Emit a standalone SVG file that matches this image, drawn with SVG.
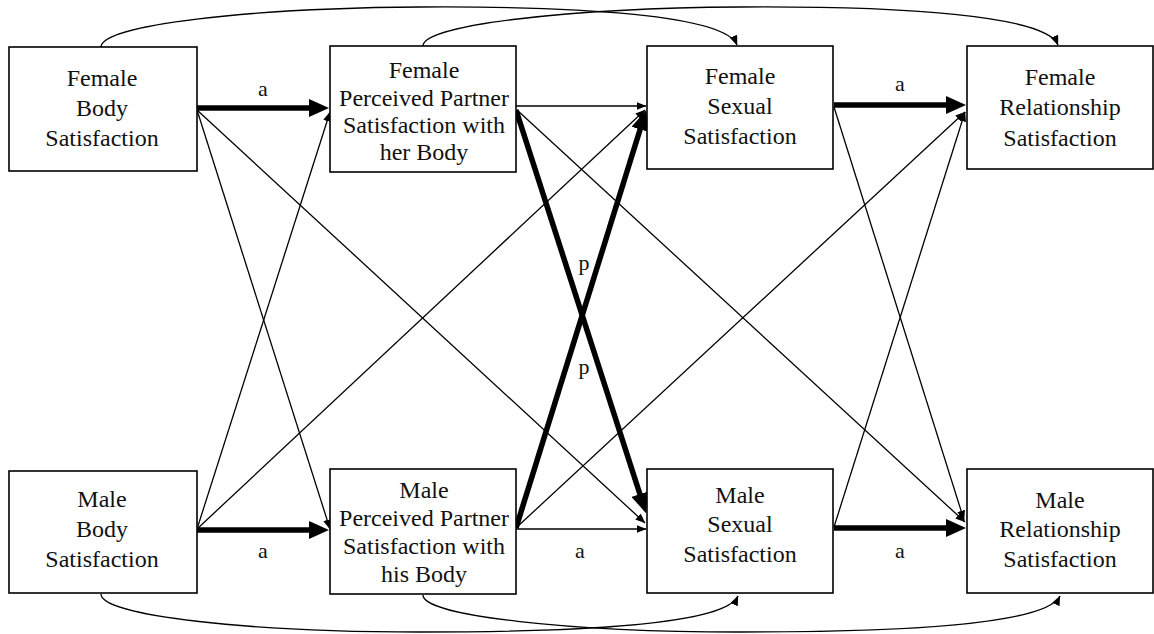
<svg xmlns="http://www.w3.org/2000/svg" width="1154" height="634" viewBox="0 0 1154 634">
<defs>
<style>
.nodebox{fill:#fff;stroke:#000;stroke-width:1.6}
.t{font-family:'Liberation Serif','Times New Roman',serif;font-size:24px;fill:#111;text-anchor:middle}
.lbl{font-family:'Liberation Serif','Times New Roman',serif;font-size:22px;fill:#111;text-anchor:middle}
.cthin{fill:none;stroke:#000;stroke-width:1.3;marker-end:url(#ahThin)}
.cthick{fill:none;stroke:#000;stroke-width:5.5;marker-end:url(#ahThick)}
</style>
<marker id="ahThin" markerWidth="10" markerHeight="8" refX="9.5" refY="4" orient="auto" markerUnits="userSpaceOnUse"><path d="M0,0 L10,4 L0,8 z" fill="#000"/></marker>
<marker id="ahThick" markerWidth="20" markerHeight="18" refX="2" refY="9" orient="auto" markerUnits="userSpaceOnUse"><path d="M0,0 L20,9 L0,18 z" fill="#000"/></marker>
</defs>
<rect width="1154" height="634" fill="#fff"/>
<g id="connectors">
<path class="cthin" d="M101,47 C101,25 250,8 420,7 C580,6 725,15 737,45"/>
<path class="cthin" d="M423,46 C423,25 570,8 740,7 C900,6 1046,15 1058,45"/>
<path class="cthin" d="M101,594 C101,616 250,632 420,632 C580,632 725,625 738,596"/>
<path class="cthin" d="M423,595 C423,616 570,632 740,632 C900,632 1046,625 1060,596"/>
<line class="cthin" x1="197" y1="110" x2="330" y2="529"/>
<line class="cthin" x1="197" y1="110" x2="645" y2="523"/>
<line class="cthin" x1="197" y1="529" x2="330" y2="112"/>
<line class="cthin" x1="197" y1="529" x2="645" y2="110"/>
<line class="cthin" x1="516" y1="106" x2="646" y2="106"/>
<line class="cthin" x1="517" y1="110" x2="965" y2="522"/>
<line class="cthin" x1="516" y1="529" x2="646" y2="529"/>
<line class="cthin" x1="517" y1="527" x2="965" y2="112"/>
<line class="cthin" x1="834" y1="107" x2="964" y2="520"/>
<line class="cthin" x1="834" y1="527" x2="965" y2="112"/>
<line class="cthick" x1="197" y1="108" x2="311" y2="108"/>
<line class="cthick" x1="834" y1="105" x2="948" y2="105"/>
<line class="cthick" x1="197" y1="530" x2="311" y2="530"/>
<line class="cthick" x1="834" y1="528" x2="948" y2="528"/>
<line class="cthick" x1="516" y1="110" x2="640.5" y2="496"/>
<line class="cthick" x1="516" y1="528" x2="640.7" y2="127.5"/>
<text class="lbl" x="263" y="96">a</text>
<text class="lbl" x="900" y="91">a</text>
<text class="lbl" x="263" y="558">a</text>
<text class="lbl" x="580" y="558">a</text>
<text class="lbl" x="900" y="558">a</text>
<text class="lbl" x="584" y="270">p</text>
<text class="lbl" x="584" y="374">p</text>
</g>
<g id="fbs">
<rect class="nodebox" x="9" y="47" width="188" height="124"/>
<text class="t" x="102" y="86">Female</text>
<text class="t" x="102" y="116">Body</text>
<text class="t" x="102" y="146">Satisfaction</text>
</g>
<g id="fpp">
<rect class="nodebox" x="330" y="46" width="186" height="126"/>
<text class="t" x="424" y="78">Female</text>
<text class="t" x="424" y="106">Perceived Partner</text>
<text class="t" x="424" y="133">Satisfaction with</text>
<text class="t" x="424" y="160">her Body</text>
</g>
<g id="fss">
<rect class="nodebox" x="647" y="46" width="186" height="123"/>
<text class="t" x="740" y="84">Female</text>
<text class="t" x="740" y="114">Sexual</text>
<text class="t" x="740" y="144">Satisfaction</text>
</g>
<g id="frs">
<rect class="nodebox" x="967" y="46" width="186" height="123"/>
<text class="t" x="1060" y="85">Female</text>
<text class="t" x="1060" y="115">Relationship</text>
<text class="t" x="1060" y="146">Satisfaction</text>
</g>
<g id="mbs">
<rect class="nodebox" x="9" y="471" width="188" height="122"/>
<text class="t" x="102" y="507">Male</text>
<text class="t" x="102" y="537">Body</text>
<text class="t" x="102" y="567">Satisfaction</text>
</g>
<g id="mpp">
<rect class="nodebox" x="330" y="469" width="186" height="125"/>
<text class="t" x="424" y="498">Male</text>
<text class="t" x="424" y="526">Perceived Partner</text>
<text class="t" x="424" y="554">Satisfaction with</text>
<text class="t" x="424" y="582">his Body</text>
</g>
<g id="mss">
<rect class="nodebox" x="647" y="469" width="186" height="124"/>
<text class="t" x="740" y="503">Male</text>
<text class="t" x="740" y="532">Sexual</text>
<text class="t" x="740" y="562">Satisfaction</text>
</g>
<g id="mrs">
<rect class="nodebox" x="967" y="469" width="186" height="124"/>
<text class="t" x="1060" y="508">Male</text>
<text class="t" x="1060" y="537">Relationship</text>
<text class="t" x="1060" y="567">Satisfaction</text>
</g>
</svg>
